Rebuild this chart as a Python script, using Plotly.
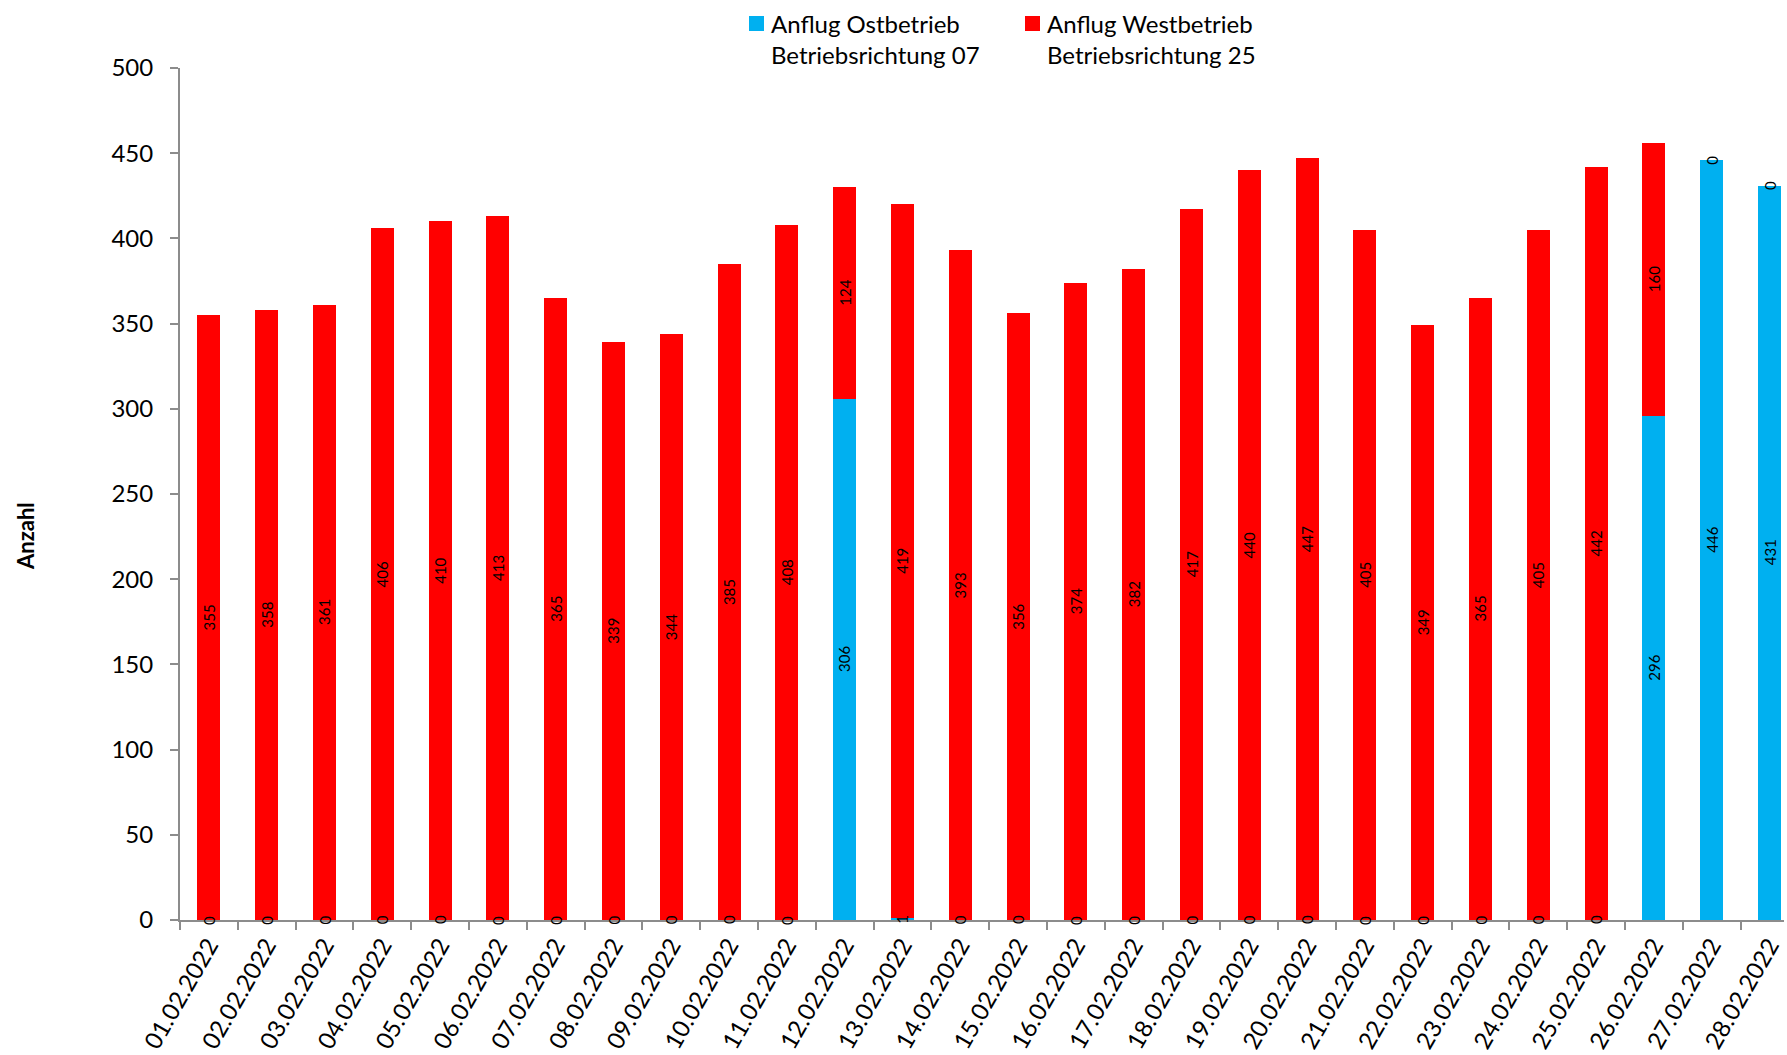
import plotly.graph_objects as go

dates = ["01.02.2022", "02.02.2022", "03.02.2022", "04.02.2022", "05.02.2022", "06.02.2022",
         "07.02.2022", "08.02.2022", "09.02.2022", "10.02.2022", "11.02.2022", "12.02.2022",
         "13.02.2022", "14.02.2022", "15.02.2022", "16.02.2022", "17.02.2022", "18.02.2022",
         "19.02.2022", "20.02.2022", "21.02.2022", "22.02.2022", "23.02.2022", "24.02.2022",
         "25.02.2022", "26.02.2022", "27.02.2022", "28.02.2022"]
ost = [0, 0, 0, 0, 0, 0, 0, 0, 0, 0, 0, 306, 1, 0, 0, 0, 0, 0, 0, 0, 0, 0, 0, 0, 0, 296, 446, 431]
west = [355, 358, 361, 406, 410, 413, 365, 339, 344, 385, 408, 124, 419, 393, 356, 374, 382, 417,
        440, 447, 405, 349, 365, 405, 442, 160, 0, 0]
series_names = ["Anflug Ostbetrieb<br>Betriebsrichtung 07", "Anflug Westbetrieb<br>Betriebsrichtung 25"]

FONT = "Lato"
BLUE = "#00B0F0"
RED = "#FF0000"
AXIS = "#8C8C8C"

W, H = 1787, 1055
ML, MR, MT, MB = 180, 3, 68, 135
PW, PH = W - ML - MR, H - MT - MB
CAT_PX = 57.8  # pixel width of one category slot (chart is cropped on the right)


def px(x):
    return (x - ML) / PW


def py(y):
    return (H - MB - y) / PH


fig = go.Figure()
fig.add_trace(go.Bar(x=dates, y=ost, name=series_names[0], showlegend=False,
                     marker=dict(color=BLUE, line=dict(width=0))))
fig.add_trace(go.Bar(x=dates, y=west, name=series_names[1], showlegend=False,
                     marker=dict(color=RED, line=dict(width=0))))

annotations = []
for d, o, w in zip(dates, ost, west):
    annotations.append(dict(x=d, y=o / 2 if o > 0 else 0, text=str(o), textangle=-90,
                            showarrow=False, xref="x", yref="y",
                            font=dict(family=FONT, size=15, color="black")))
    annotations.append(dict(x=d, y=o + w / 2 if w > 0 else o, text=str(w), textangle=-90,
                            showarrow=False, xref="x", yref="y",
                            font=dict(family=FONT, size=15, color="black")))

# y-axis title
annotations.append(dict(x=px(25), y=py(536), xref="paper", yref="paper", text="<b>Anzahl</b>",
                        textangle=-90, showarrow=False, xanchor="center", yanchor="middle",
                        font=dict(family=FONT, size=22, color="black")))

# legend (hand-placed)
shapes = []
for name, color, sq_x in zip(series_names, [BLUE, RED], [749, 1025]):
    shapes.append(dict(type="rect", xref="paper", yref="paper",
                       x0=px(sq_x), x1=px(sq_x + 15), y0=py(31), y1=py(16),
                       fillcolor=color, line=dict(width=0)))
    annotations.append(dict(x=px(sq_x + 20), y=py(7), xref="paper", yref="paper", text=name,
                            showarrow=False, xanchor="left", yanchor="top", align="left",
                            font=dict(family=FONT, size=24, color="black")))

fig.update_layout(
    width=W, height=H,
    margin=dict(l=ML, r=MR, t=MT, b=MB),
    barmode="stack",
    bargap=0.6,
    plot_bgcolor="white",
    paper_bgcolor="white",
    font=dict(family=FONT, size=24, color="black"),
    showlegend=False,
    annotations=annotations,
    shapes=shapes,
    xaxis=dict(range=[-0.5, -0.5 + PW / CAT_PX], showline=True, linecolor=AXIS, linewidth=2,
               ticks="outside", tickson="boundaries",
               ticklen=8, tickcolor=AXIS, tickwidth=2, tickangle=-60, showgrid=False,
               automargin=False, tickfont=dict(family=FONT, size=24, color="black")),
    yaxis=dict(range=[0, 500], dtick=50, showline=True, linecolor=AXIS, linewidth=2,
               ticks="outside", ticklen=8, tickcolor=AXIS, tickwidth=2, showgrid=False,
               zeroline=False, automargin=False, ticklabelstandoff=12,
               tickfont=dict(family=FONT, size=24, color="black")),
)

fig.write_html("out.html", config={"displayModeBar": False},
               post_script="document.body.style.margin='0';document.body.style.overflow='hidden';")
